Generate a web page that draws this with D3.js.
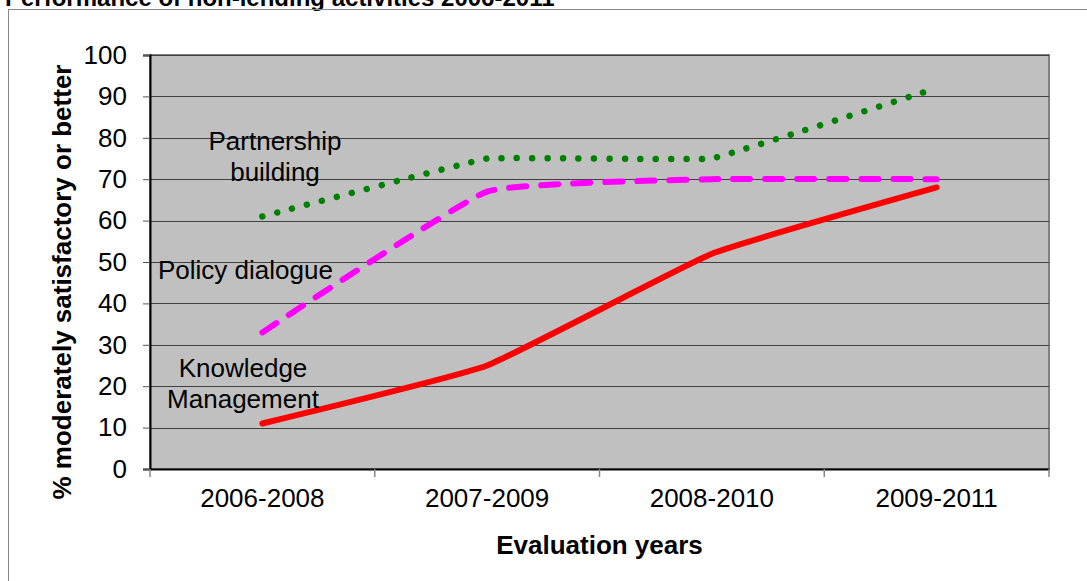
<!DOCTYPE html>
<html><head><meta charset="utf-8">
<script src="https://cdn.jsdelivr.net/npm/d3@7"></script>
<style>body{margin:0;background:#fff;} svg{display:block;font-family:"Liberation Sans",Arial,sans-serif;}</style>
</head><body>
<svg id="c" width="1087" height="581"></svg>
<script>
const categories = ["2006-2008","2007-2009","2008-2010","2009-2011"];
const partnership = [61, 75, 75, 92];
const policy = [33, 67, 70, 70];
const knowledge = [11, 25, 52, 68];
const yTicks = [0,10,20,30,40,50,60,70,80,90,100];

const svg = d3.select("#c");
const m = {l:150, r:1049, t:55, b:469};
const FS = 26;

svg.append("text").attr("x",5).attr("y",6).attr("font-size",24).attr("font-weight","bold")
  .text("Performance of non-lending activities 2006-2011");
svg.append("rect").attr("x",8.5).attr("y",9.5).attr("width",1100).attr("height",600)
  .attr("fill","none").attr("stroke","#888").attr("stroke-width",1);

const x = d3.scaleBand().domain(categories).range([m.l, m.r]);
const y = d3.scaleLinear().domain([0,100]).range([m.b, m.t]);

svg.append("rect").attr("x",m.l).attr("y",m.t).attr("width",m.r-m.l).attr("height",m.b-m.t)
  .attr("fill","#C0C0C0").attr("stroke","#808080").attr("stroke-width",2);

svg.append("g").selectAll("line").data(yTicks.slice(1)).join("line")
  .attr("x1",m.l).attr("x2",m.r).attr("y1",d=>Math.round(y(d))+0.5).attr("y2",d=>Math.round(y(d))+0.5)
  .attr("stroke","#404040").attr("stroke-width",1);

const ya = svg.append("g").attr("transform",`translate(${m.l},0)`)
  .call(d3.axisLeft(y).tickValues(yTicks).tickSize(7).tickPadding(16));
ya.select(".domain").attr("stroke","#000").attr("stroke-width",2);
ya.selectAll(".tick line").attr("stroke","#555");
ya.selectAll("text").attr("font-size",FS).attr("font-family","Liberation Sans, Arial").attr("fill","#000");

const xa = svg.append("g").attr("transform",`translate(0,${m.b})`)
  .call(d3.axisBottom(x).tickSize(0).tickPadding(20));
xa.select(".domain").attr("stroke","#000").attr("stroke-width",2);
xa.selectAll("text").attr("font-size",FS).attr("font-family","Liberation Sans, Arial").attr("fill","#000");
const bounds = categories.map(c=>x(c)).concat([m.r]);
svg.append("g").selectAll("line").data(bounds).join("line")
  .attr("x1",d=>d).attr("x2",d=>d).attr("y1",m.b).attr("y2",m.b+8).attr("stroke","#888").attr("stroke-width",1.5);

const mkLine = t => d3.line().x((d,i)=>x(categories[i])+x.bandwidth()/2).y(d=>y(d)).curve(d3.curveCardinal.tension(t));

svg.append("path").attr("d",mkLine(0.65)(knowledge)).attr("fill","none").attr("stroke","#FF0000")
  .attr("stroke-width",6).attr("stroke-linecap","round").attr("stroke-linejoin","round");
svg.append("path").attr("d",mkLine(0.65)(policy)).attr("fill","none").attr("stroke","#FF00FF")
  .attr("stroke-width",6).attr("stroke-linecap","round").attr("stroke-dasharray","17 15");
svg.append("path").attr("d",mkLine(0.85)(partnership)).attr("fill","none").attr("stroke","#008000")
  .attr("stroke-width",6.5).attr("stroke-linecap","round").attr("stroke-dasharray","0.01 15.4");

const lab = (t,xx,yy,anchor)=>svg.append("text").attr("x",xx).attr("y",yy).attr("font-size",FS)
  .attr("text-anchor",anchor||"middle").text(t);
lab("Partnership",275,150); lab("building",275,181);
lab("Policy dialogue",158,279,"start");
lab("Knowledge",243,377); lab("Management",243,408);

svg.append("text").attr("x",(m.l+m.r)/2).attr("y",554).attr("text-anchor","middle")
  .attr("font-size",FS).attr("font-weight","bold").text("Evaluation years");
svg.append("text").attr("transform",`translate(71,282) rotate(-90)`).attr("text-anchor","middle")
  .attr("font-size",FS).attr("font-weight","bold").text("% moderately satisfactory or better");
</script>
</body></html>
